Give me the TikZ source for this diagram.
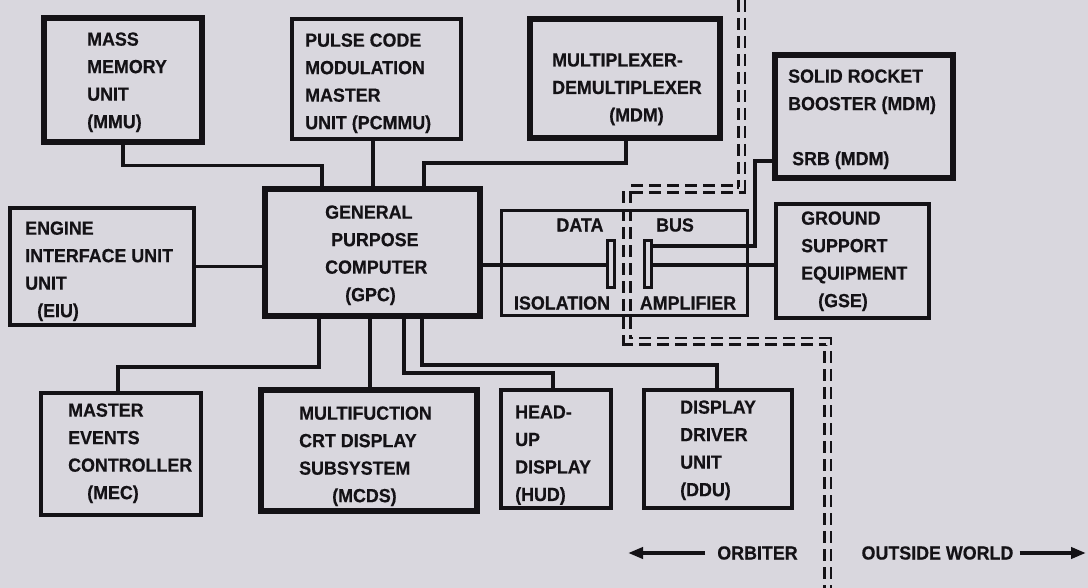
\documentclass[tikz,border=0pt]{standalone}
\usepackage{fontspec}
\setmainfont{Liberation Sans}[FakeStretch=0.94,BoldFeatures={FakeBold=0.5}]
\usetikzlibrary{arrows.meta}
\definecolor{paper}{RGB}{217,215,222}
\definecolor{ink}{RGB}{20,18,22}

\begin{document}
\begin{tikzpicture}[x=1pt,y=-1pt,>={Triangle[length=15pt,width=11pt]},
  every node/.style={inner sep=0pt},
  unit/.style={draw=ink,line width=3.3pt,rectangle},
  heavy/.style={unit,line width=5.2pt},
  txt/.style={anchor=north west,align=left,text=ink,font=\fontsize{19}{27.5}\selectfont\bfseries},
  side/.style={text=ink,font=\fontsize{19}{22}\selectfont\bfseries},
  wire/.style={draw=ink,line width=3.2pt},
  plate/.style={draw=ink,line width=2.8pt,minimum width=7pt,minimum height=47pt},
  fence/.style={draw=ink,line width=2.6pt,double=paper,double distance=4pt,dash pattern=on 12pt off 6pt}]
  \fill[paper] (0,0) rectangle (1088,588);
  \useasboundingbox (0,0) rectangle (1088,588);

  \draw[fence] (741.5,0) -- (741.5,189) -- (627,189) -- (627,341.5) -- (827.5,341.5) -- (827.5,588);

  \node[heavy,minimum width=158pt,minimum height=124pt] (mmu) at (123,80) {};
  \node[unit,line width=3.6pt,minimum width=169pt,minimum height=120pt] (pcmmu) at (376.5,79) {};
  \node[heavy,minimum width=190pt,minimum height=119pt] (mdm) at (625,78.5) {};
  \node[heavy,minimum width=178pt,minimum height=123pt] (srb) at (864,116.5) {};
  \node[unit,line width=3.8pt,minimum width=184pt,minimum height=117pt] (eiu) at (102,266.5) {};
  \node[heavy,line width=5.6pt,minimum width=215pt,minimum height=127pt] (gpc) at (372.5,252.5) {};
  \node[unit,line width=3pt,minimum width=246pt,minimum height=105pt] (dbia) at (624,263.5) {};
  \node[unit,minimum width=153pt,minimum height=114pt] (gse) at (852.5,261) {};
  \node[unit,minimum width=160pt,minimum height=122pt] (mec) at (121,454) {};
  \node[heavy,line width=5.6pt,minimum width=216pt,minimum height=121pt] (mcds) at (369,450.5) {};
  \node[unit,minimum width=110pt,minimum height=118pt] (hud) at (556,449) {};
  \node[unit,minimum width=148pt,minimum height=118pt] (ddu) at (718,449) {};
  \node[plate] (iso) at (611,264) {};
  \node[plate] (amp) at (648,264) {};

  \draw[wire] (mmu.south) -- ++(0,21) -| (322,0 |- gpc.north);
  \draw[wire] (373,0 |- pcmmu.south) -- (373,0 |- gpc.north);
  \draw[wire] (626,0 |- mdm.south) -- (626,163) -| (424,0 |- gpc.north);
  \draw[wire] (eiu.east) -- (eiu.east -| gpc.west);
  \draw[wire] (gpc.east |- 0,265) -- (iso.west |- 0,265);
  \draw[wire] (amp.east |- 0,265) -- (gse.west |- 0,265);
  \draw[wire] (amp.east |- 0,246) -- (755,246) |- (srb.west |- 0,161);
  \draw[wire] (319,0 |- gpc.south) -- (319,367) -| (118,0 |- mec.north);
  \draw[wire] (370,0 |- gpc.south) -- (370,0 |- mcds.north);
  \draw[wire] (404,0 |- gpc.south) -- (404,373) -| (553,0 |- hud.north);
  \draw[wire] (422,0 |- gpc.south) -- (422,365) -| (717,0 |- ddu.north);

  \node[txt] (mmu-t) at (87,32.2) {MASS\\MEMORY\\UNIT\\(MMU)};
  \node[txt] (pcmmu-t) at (305,33.2) {PULSE CODE\\MODULATION\\MASTER\\UNIT (PCMMU)};
  \node[txt] (mdm-t) at (552,53.2) {MULTIPLEXER-\\DEMULTIPLEXER\\\hspace*{57pt}(MDM)};
  \node[txt] (srb-t) at (788,69.2) {SOLID ROCKET\\BOOSTER (MDM)\\[27.5pt]\hspace*{4pt}SRB (MDM)};
  \node[txt] (eiu-t) at (25,221.2) {ENGINE\\INTERFACE UNIT\\UNIT\\\hspace*{12pt}(EIU)};
  \node[txt] (gpc-t) at (325,205.2) {GENERAL\\\hspace*{6pt}PURPOSE\\COMPUTER\\\hspace*{20pt}(GPC)};
  \node[txt] (gse-t) at (801,211.2) {GROUND\\SUPPORT\\EQUIPMENT\\\hspace*{17pt}(GSE)};
  \node[txt] (mec-t) at (68,403.2) {MASTER\\EVENTS\\CONTROLLER\\\hspace*{19pt}(MEC)};
  \node[txt] (mcds-t) at (299,406.2) {MULTIFUCTION\\CRT DISPLAY\\SUBSYSTEM\\\hspace*{33pt}(MCDS)};
  \node[txt] (hud-t) at (515,405.2) {HEAD-\\UP\\DISPLAY\\(HUD)};
  \node[txt] (ddu-t) at (680,400.2) {DISPLAY\\DRIVER\\UNIT\\(DDU)};
  \node[side] (data) at (580,225) {DATA};
  \node[side] (bus) at (675,225) {BUS};
  \node[side] (isol) at (562,303) {ISOLATION};
  \node[side] (ampl) at (688,303) {AMPLIFIER};

  \node[side] (orb) at (757.5,553) {ORBITER};
  \node[side] (out) at (937.5,553) {OUTSIDE WORLD};
  \coordinate (orbtip) at (628,553);
  \coordinate (outtip) at (1086,553);
  \draw[wire,line width=3.8pt,->] ([xshift=-12pt]orb.west) -- (orbtip);
  \draw[wire,line width=3.8pt,->] ([xshift=6pt]out.east) -- (outtip);
\end{tikzpicture}
\end{document}
